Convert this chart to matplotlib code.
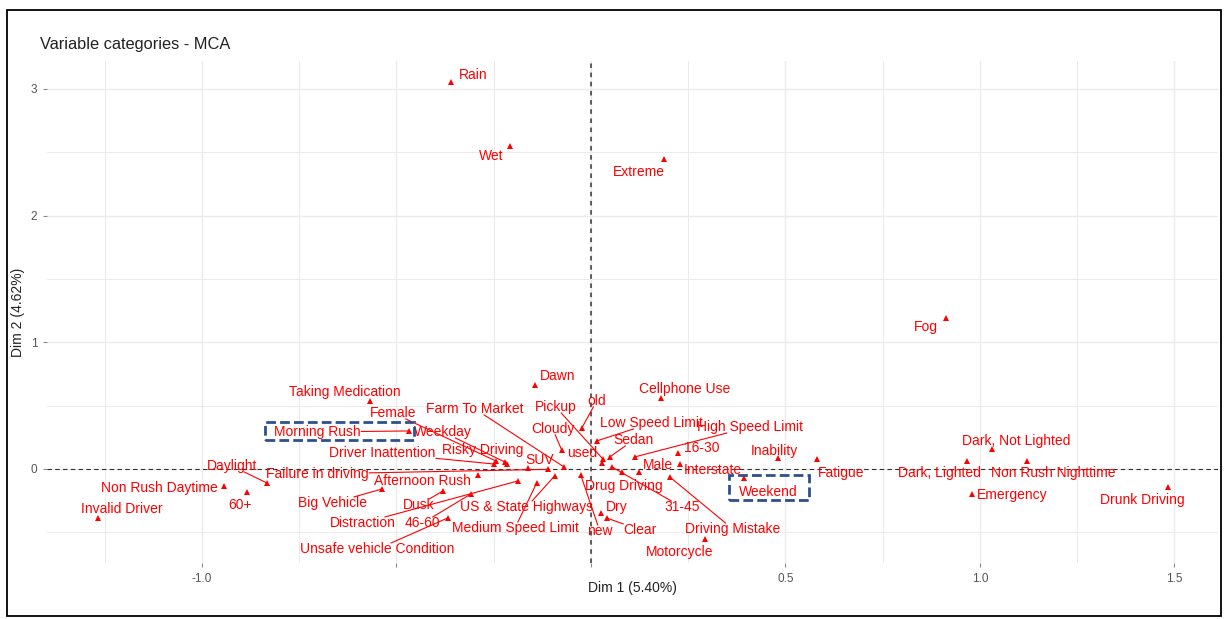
import numpy as np
import matplotlib
matplotlib.use("Agg")
import matplotlib.pyplot as plt
from matplotlib.patches import Rectangle

plt.rcParams['font.family'] = ['Liberation Sans', 'DejaVu Sans']

# MCA variable categories, coordinates on Dim 1 / Dim 2
categories = ['Rain', 'Wet', 'Extreme', 'Fog', 'Dark, Not Lighted', 'Dark, Lighted',
              'Non Rush Nighttime', 'Emergency', 'Drunk Driving', 'Fatigue', 'Inability',
              'Weekend', 'Cellphone Use', 'High Speed Limit', '16-30', 'Interstate', 'Male',
              'Driving Mistake', 'Motorcycle', '31-45', 'Sedan', 'Low Speed Limit', 'old',
              'Pickup', 'used', 'Cloudy', 'Dawn', 'Farm To Market', 'SUV', 'Drug Driving',
              'new', 'Dry', 'Clear', 'US & State Highways', 'Medium Speed Limit', '46-60',
              'Distraction', 'Unsafe vehicle Condition', 'Dusk', 'Big Vehicle',
              'Afternoon Rush', 'Failure in driving', 'Driver Inattention', 'Risky Driving',
              'Weekday', 'Female', 'Morning Rush', 'Taking Medication', 'Daylight',
              'Non Rush Daytime', '60+', 'Invalid Driver']
dim1 = [-0.360, -0.208, 0.188, 0.913, 1.031, 0.967,
        1.121, 0.979, 1.483, 0.581, 0.481,
        0.393, 0.180, 0.113, 0.224, 0.229, 0.123,
        0.203, 0.293, 0.054, 0.049, 0.015, -0.023,
        0.031, 0.028, -0.075, -0.144, -0.069, -0.162, 0.080,
        -0.026, 0.026, 0.041, -0.093, -0.139, -0.308,
        -0.188, -0.368, -0.380, -0.537,
        -0.290, -0.111, -0.249, -0.216,
        -0.221, -0.244, -0.468, -0.568, -0.833,
        -0.943, -0.884, -1.267]
dim2 = [3.054, 2.549, 2.447, 1.192, 0.158, 0.063,
        0.063, -0.197, -0.142, 0.079, 0.087,
        -0.071, 0.560, 0.095, 0.126, 0.039, -0.024,
        -0.063, -0.552, 0.016, 0.095, 0.221, 0.324,
        0.079, 0.047, 0.150, 0.663, 0.016, 0.008, -0.024,
        -0.047, -0.347, -0.387, -0.055, -0.110, -0.197,
        -0.095, -0.387, -0.174, -0.158,
        -0.047, -0.003, 0.039, 0.039,
        0.055, 0.063, 0.300, 0.537, -0.110,
        -0.134, -0.182, -0.387]

highlighted = ['Morning Rush', 'Weekend']

# where each label sits (repelled text position)
label_pos = {
    'Rain': (-0.303, 3.110), 'Wet': (-0.257, 2.470), 'Extreme': (0.123, 2.344),
    'Fog': (0.861, 1.121), 'Dark, Not Lighted': (1.093, 0.221),
    'Dark, Lighted': (0.897, -0.032), 'Non Rush Nighttime': (1.188, -0.032),
    'Emergency': (1.082, -0.205), 'Drunk Driving': (1.419, -0.245),
    'Fatigue': (0.643, -0.032), 'Inability': (0.473, 0.142), 'Weekend': (0.455, -0.182),
    'Cellphone Use': (0.242, 0.631), 'High Speed Limit': (0.409, 0.331),
    '16-30': (0.285, 0.166), 'Interstate': (0.314, -0.008), 'Male': (0.172, 0.032),
    'Driving Mistake': (0.365, -0.474), 'Motorcycle': (0.229, -0.655),
    '31-45': (0.234, -0.300), 'Sedan': (0.110, 0.229), 'Low Speed Limit': (0.157, 0.363),
    'old': (0.015, 0.537), 'Pickup': (-0.090, 0.489), 'used': (-0.021, 0.126),
    'Cloudy': (-0.098, 0.316), 'Dawn': (-0.085, 0.734), 'Farm To Market': (-0.298, 0.474),
    'SUV': (-0.131, 0.071), 'Drug Driving': (0.085, -0.134), 'new': (0.023, -0.489),
    'Dry': (0.067, -0.300), 'Clear': (0.126, -0.481),
    'US & State Highways': (-0.165, -0.300), 'Medium Speed Limit': (-0.195, -0.466),
    '46-60': (-0.432, -0.426), 'Distraction': (-0.586, -0.426),
    'Unsafe vehicle Condition': (-0.548, -0.631), 'Dusk': (-0.442, -0.284),
    'Big Vehicle': (-0.663, -0.268), 'Afternoon Rush': (-0.432, -0.095),
    'Failure in driving': (-0.704, -0.039), 'Driver Inattention': (-0.537, 0.126),
    'Risky Driving': (-0.278, 0.150), 'Weekday': (-0.380, 0.292),
    'Female': (-0.509, 0.442), 'Morning Rush': (-0.704, 0.292),
    'Taking Medication': (-0.632, 0.608), 'Daylight': (-0.923, 0.024),
    'Non Rush Daytime': (-1.108, -0.150), '60+': (-0.902, -0.284),
    'Invalid Driver': (-1.206, -0.316),
}

fig = plt.figure(figsize=(12.24, 6.19), dpi=100)
ax = fig.add_axes([0.0384, 0.0905, 0.9566, 0.811])

ax.set_xlim(-1.398, 1.612)
ax.set_ylim(-0.742, 3.22)
ax.set_xticks([-1.0, -0.5, 0, 0.5, 1.0, 1.5])
ax.set_xticklabels(['-1.0', '', '', '0.5', '1.0', '1.5'])
ax.set_yticks([0, 1, 2, 3])
ax.set_xticks(np.arange(-1.25, 1.6, 0.5), minor=True)
ax.set_yticks([-0.5, 0.5, 1.5, 2.5], minor=True)
ax.grid(True, which='major', color='#ebebeb', lw=1.0)
ax.grid(True, which='minor', color='#ebebeb', lw=0.7)
ax.set_axisbelow(True)
for s in ax.spines.values():
    s.set_visible(False)
ax.tick_params(which='major', length=3, color='#8c8c8c', labelcolor='#555555',
               labelsize=8.5, pad=4)
ax.tick_params(which='minor', length=0)

ax.axhline(0, color='#333333', lw=0.8, ls=(0, (4, 3)), zorder=1)
ax.axvline(0, color='#333333', lw=1.1, ls=(0, (3, 3)), zorder=1)

ax.plot(dim1, dim2, ls='none', marker='^', ms=4.5, color='red', mew=0, zorder=3)

texts = {}
for name in categories:
    lx, ly = label_pos[name]
    texts[name] = ax.text(lx, ly, name, color='red', fontsize=10, ha='center',
                          va='center', zorder=4)

ax.set_xlabel('Dim 1 (5.40%)', fontsize=10, color='#222222')
ax.set_ylabel('Dim 2 (4.62%)', fontsize=10, color='#222222')
ax.xaxis.set_label_coords(0.5, -0.036)
ax.yaxis.set_label_coords(-0.019, 0.5)

fig.text(40 / 1224, 1 - 45 / 619, 'Variable categories - MCA', fontsize=11.8,
         color='#222222', va='center', ha='left')

# segments from label edge to its point, like ggrepel
fig.canvas.draw()
renderer = fig.canvas.get_renderer()
inv = ax.transData.inverted()
for name, x, y in zip(categories, dim1, dim2):
    bb = texts[name].get_window_extent(renderer)
    p = ax.transData.transform((x, y))
    # skip labels that sit right next to their point
    near = np.array([np.clip(p[0], bb.x0, bb.x1), np.clip(p[1], bb.y0, bb.y1)])
    if np.hypot(*(p - near)) < 9.5:
        continue
    c = np.array([(bb.x0 + bb.x1) / 2, (bb.y0 + bb.y1) / 2])
    d = p - c
    tx = (bb.width / 2 + 1) / abs(d[0]) if d[0] != 0 else np.inf
    ty = (bb.height / 2 - 1) / abs(d[1]) if d[1] != 0 else np.inf
    start = c + min(tx, ty) * d
    (x0, y0), (x1, y1) = inv.transform([start, p])
    ax.plot([x0, x1], [y0, y1], color='red', lw=0.8, zorder=2)

# dashed boxes around highlighted categories
for name in highlighted:
    i = categories.index(name)
    bb = texts[name].get_window_extent(renderer)
    p = ax.transData.transform((dim1[i], dim2[i]))
    x0 = min(bb.x0, p[0]) - 9
    x1 = max(bb.x1 + 12, p[0] + 5)
    y0 = min(bb.y0, p[1]) - 1
    y1 = max(bb.y1, p[1]) + 3
    (dx0, dy0), (dx1, dy1) = inv.transform([(x0, y0), (x1, y1)])
    ax.add_patch(Rectangle((dx0, dy0), dx1 - dx0, dy1 - dy0, fill=False,
                           ec='#2e4f8f', lw=2, ls=(0, (3.5, 1.5)), zorder=5))

# outer frame
fig.patches.append(Rectangle((7 / 1224, 3 / 619), 1214 / 1224, 606 / 619, fill=False,
                             ec='black', lw=1.3, transform=fig.transFigure, figure=fig))

fig.savefig('out.png', dpi=100)
